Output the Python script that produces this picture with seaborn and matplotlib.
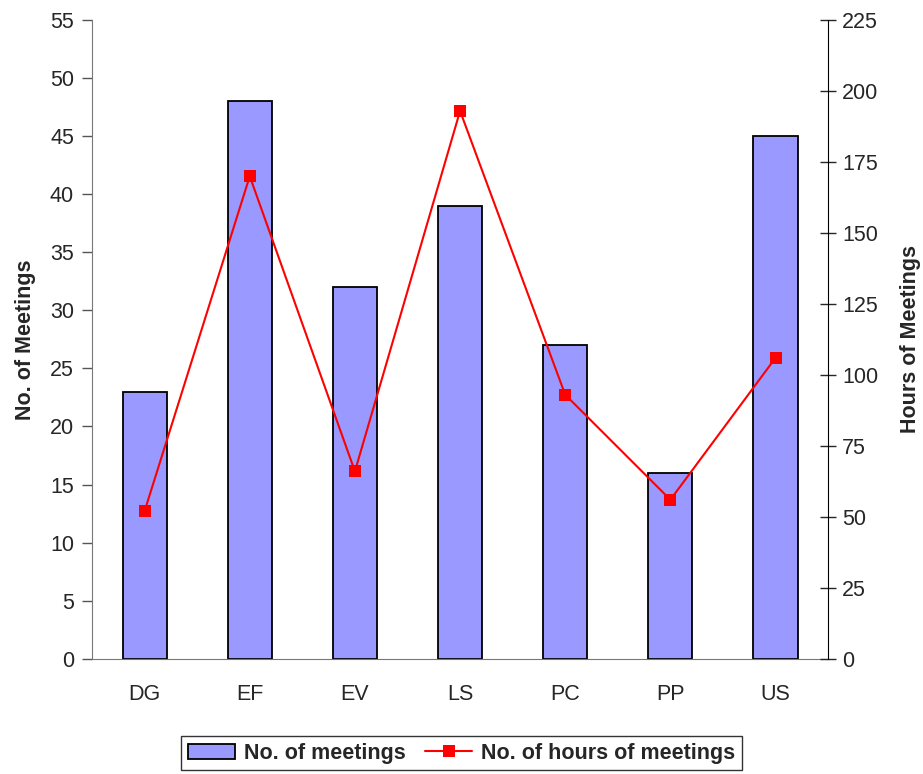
import matplotlib
matplotlib.use("Agg")
import matplotlib.pyplot as plt
import seaborn as sns
import pandas as pd

categories = ["DG", "EF", "EV", "LS", "PC", "PP", "US"]
meetings = [23, 48, 32, 39, 27, 16, 45]
hours = [52, 170, 66, 193, 93, 56, 106]

sns.set_style("white")
plt.rcParams["font.family"] = ["Liberation Sans", "DejaVu Sans"]

df = pd.DataFrame({"group": categories, "meetings": meetings, "hours": hours})

fig = plt.figure(figsize=(9.23, 7.74), dpi=100)
ax = fig.add_axes([0.0997, 0.149, 0.7975, 0.825])

sns.barplot(data=df, x="group", y="meetings", ax=ax, color="#9999ff",
            edgecolor="black", linewidth=1.3, width=0.42, saturation=1,
            label="No. of meetings")
if ax.get_legend() is not None:
    ax.get_legend().remove()
ax.set_xlim(-0.5, len(categories) - 0.5)
ax.set_ylim(0, 55)
ax.set_yticks(range(0, 56, 5))
ax.set_xlabel("")
ax.set_ylabel("No. of Meetings", fontsize=15.5, fontweight="bold", labelpad=10)

ax2 = ax.twinx()
sns.lineplot(data=df, x="group", y="hours", ax=ax2, color="red", marker="s",
             markersize=8, markeredgewidth=0, linewidth=1.5,
             label="No. of hours of meetings", legend=False)
ax2.set_ylim(0, 225)
ax2.set_yticks(range(0, 226, 25))
ax2.set_ylabel("Hours of Meetings", fontsize=15.5, fontweight="bold", labelpad=16)

# category-boundary ticks on x axis, labels centered
ax.set_xticks([i - 0.5 for i in range(len(categories) + 1)], minor=False)
ax.set_xticklabels([])
ax.set_xticks(range(len(categories)), minor=True)
ax.set_xticklabels(categories, minor=True)
ax.tick_params(axis="x", which="major", direction="out", length=7, width=1, color="#333333")
ax.tick_params(axis="x", which="minor", length=0, labelsize=15.5, pad=18)
ax.tick_params(axis="y", direction="out", length=7, width=1, labelsize=15.5, color="#555555", pad=6)
ax2.tick_params(axis="y", direction="inout", length=12, width=1, labelsize=15.5, pad=4)

ax.spines["top"].set_visible(False)
ax2.spines["top"].set_visible(False)
ax.spines["left"].set_color("#777777")
ax.spines["bottom"].set_color("#777777")
ax.spines["right"].set_visible(False)
ax2.spines["left"].set_visible(False)
ax2.spines["bottom"].set_visible(False)
ax2.spines["right"].set_color("black")

h1, l1 = ax.get_legend_handles_labels()
h2, l2 = ax2.get_legend_handles_labels()
leg = fig.legend(h1 + h2, l1 + l2, loc="lower center", bbox_to_anchor=(0.5, -0.009),
                 ncol=2, frameon=True, fancybox=False, prop={"size": 15.5, "weight": "bold"},
                 handlelength=2.2, columnspacing=0.9, handletextpad=0.4,
                 borderpad=0.3)
leg.get_frame().set_edgecolor("black")
leg.get_frame().set_linewidth(1)

fig.savefig("out.png", dpi=100)
